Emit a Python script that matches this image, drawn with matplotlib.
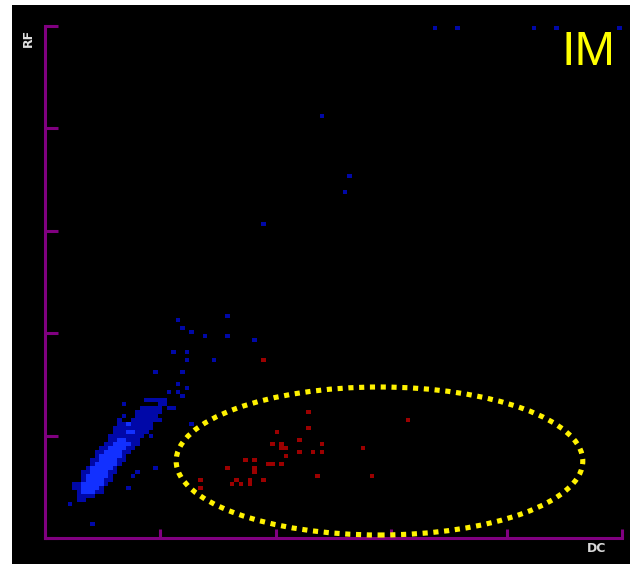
import numpy as np
import matplotlib.pyplot as plt
from matplotlib.colors import ListedColormap
from matplotlib.patches import Ellipse, Rectangle

# 128 x 128 channel grid, DC on x, RF on y
n_ch = 128

# main population, low density halo: (rf, dc_from, dc_to)
cluster_dim = [
    (34, 22, 26), (33, 25, 26), (32, 21, 25), (32, 27, 28), (31, 20, 25),
    (30, 20, 24), (29, 19, 25), (28, 16, 23), (27, 15, 23), (26, 15, 22),
    (25, 14, 21), (24, 14, 20), (23, 13, 20), (22, 12, 19), (21, 11, 18),
    (20, 11, 17), (19, 10, 17), (18, 10, 16), (17, 9, 15), (16, 8, 15),
    (15, 8, 14), (14, 8, 14), (13, 6, 13), (12, 6, 12), (11, 7, 12),
    (10, 7, 10), (9, 7, 8),
]
# main population, high density core: (rf, dc_from, dc_to)
cluster_bright = [
    (28, 18, 18), (26, 18, 19), (24, 16, 17), (23, 15, 18), (22, 14, 17),
    (21, 13, 16), (20, 12, 16), (19, 12, 15), (18, 11, 15), (17, 10, 14),
    (16, 10, 13), (15, 9, 13), (14, 9, 12), (13, 8, 12), (12, 8, 11),
    (11, 8, 10),
]
# single blue events (dc, rf)
blue_dc = [86, 91, 108, 113, 127, 61, 67, 66, 48, 40, 29, 30, 32, 35, 40, 46,
           28, 31, 31, 37, 24, 30, 29, 27, 29, 31, 30, 23, 25, 25, 27, 28, 17,
           23, 32, 20, 19, 24, 18, 5, 10, 16, 17]
blue_rf = [127, 127, 127, 127, 127, 105, 90, 86, 78, 55, 54, 52, 51, 50, 50, 49,
           46, 46, 44, 44, 41, 41, 38, 36, 36, 37, 35, 34, 34, 33, 32, 32, 33,
           25, 28, 16, 15, 17, 12, 8, 3, 29, 30]
# red events inside the gate (dc, rf)
red_dc = [58, 80, 51, 58, 56, 50, 52, 52, 53, 61, 56, 59, 61, 70, 53, 44, 46,
          49, 50, 52, 46, 46, 40, 72, 60, 48, 42, 45, 45, 41, 43, 34, 34, 48]
red_rf = [31, 29, 26, 27, 24, 23, 23, 22, 22, 23, 21, 21, 21, 22, 20, 19, 19,
          18, 18, 18, 17, 16, 17, 15, 15, 14, 14, 14, 13, 13, 13, 14, 12, 44]

purple = '#800080'

grid = np.full((n_ch, n_ch), np.nan)
for rf, a, b in cluster_dim:
    grid[rf, a:b + 1] = 1
for dc, rf in zip(blue_dc, blue_rf):
    grid[rf, dc] = 1
for rf, a, b in cluster_bright:
    grid[rf, a:b + 1] = 2
for dc, rf in zip(red_dc, red_rf):
    grid[rf, dc] = 3

fig = plt.figure(figsize=(6.3, 5.64), dpi=100, facecolor='white')
bg = Rectangle((12 / 630, 0), 1, 1 - 5 / 564, transform=fig.transFigure,
               facecolor='black', edgecolor='none', zorder=-10)
fig.add_artist(bg)

ax = fig.add_axes([45 / 630, 26 / 564, 577 / 630, 512 / 564])
ax.set_facecolor('black')

cmap = ListedColormap(['#0008a8', '#1230ff', '#9c0000'])
edges = np.arange(n_ch + 1)
ax.pcolormesh(edges, edges, np.ma.masked_invalid(grid), cmap=cmap, vmin=0.5, vmax=3.5)

gate = Ellipse((74.2, 19.25), 90.2, 37.0, fill=False, edgecolor='#fff200',
               linewidth=3.7, linestyle=(0, (1, 1.1)), zorder=5, clip_on=False)
ax.add_patch(gate)

ax.set_xlim(0, n_ch)
ax.set_ylim(0, n_ch)
ticks = np.linspace(0, n_ch, 6)
ax.set_xticks(ticks)
ax.set_yticks(ticks)
ax.tick_params(axis='x', direction='in', length=6.5, width=2.2, color=purple,
               labelbottom=False)
ax.tick_params(axis='y', direction='in', length=9.5, width=2.2, color=purple,
               labelleft=False)
for side in ['top', 'right']:
    ax.spines[side].set_visible(False)
for side in ['left', 'bottom']:
    ax.spines[side].set_color(purple)
    ax.spines[side].set_linewidth(2.2)

fig.text(28 / 630, 1 - 38 / 564, 'RF', rotation=90, color='#e0e0e0', fontsize=9,
         fontweight='bold', ha='center', va='center')
fig.text(597 / 630, 1 - 548 / 564, 'DC', color='#d8d8d8', fontsize=9,
         fontweight='bold', ha='center', va='center')
fig.text(589 / 630, 1 - 65 / 564, 'IM', color='#ffff00', fontsize=35,
         family='Liberation Sans', ha='center', va='baseline')

fig.savefig('out.png', dpi=100, facecolor='white')
